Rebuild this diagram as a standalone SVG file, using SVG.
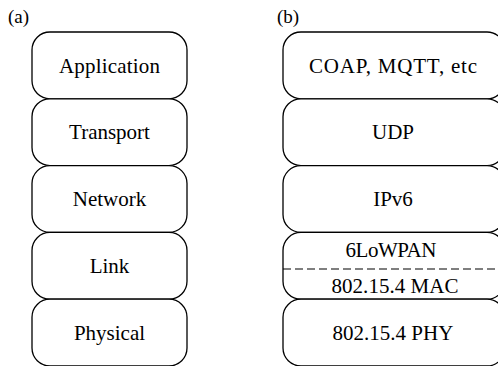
<svg xmlns="http://www.w3.org/2000/svg" width="498" height="366" viewBox="0 0 498 366">
  <style>
    .box { fill: #ffffff; stroke: #000000; stroke-width: 1.3; }
    .lbl { font-family: "Liberation Serif", "Times New Roman", serif; font-size: 21px; fill: #000000; text-anchor: middle; }
    .tag { font-family: "Liberation Serif", "Times New Roman", serif; font-size: 19px; fill: #000000; }
    .split { stroke: #000000; stroke-width: 1.2; stroke-dasharray: 8 4; fill: none; }
  </style>
  <rect width="498" height="366" fill="#ffffff"/>

  <!-- (a) generic stack -->
  <text class="tag" x="8" y="23">(a)</text>
  <g id="a-application">
    <rect class="box" x="32" y="32" width="155" height="66.8" rx="18"/>
    <text class="lbl" x="109.5" y="72.5" textLength="101" lengthAdjust="spacing">Application</text>
  </g>
  <g id="a-transport">
    <rect class="box" x="32" y="98.8" width="155" height="66.8" rx="18"/>
    <text class="lbl" x="109.5" y="139.3">Transport</text>
  </g>
  <g id="a-network">
    <rect class="box" x="32" y="165.6" width="155" height="66.8" rx="18"/>
    <text class="lbl" x="109.5" y="206">Network</text>
  </g>
  <g id="a-link">
    <rect class="box" x="32" y="232.4" width="155" height="66.8" rx="18"/>
    <text class="lbl" x="109.5" y="273">Link</text>
  </g>
  <g id="a-physical">
    <rect class="box" x="32" y="299.2" width="155" height="66.8" rx="18"/>
    <text class="lbl" x="109.5" y="339.6">Physical</text>
  </g>

  <!-- (b) IoT stack -->
  <text class="tag" x="277" y="23">(b)</text>
  <g id="b-app">
    <rect class="box" x="283" y="32" width="222" height="66.8" rx="18"/>
    <text class="lbl" x="393" y="72.5" textLength="168" lengthAdjust="spacing">COAP, MQTT, etc</text>
  </g>
  <g id="b-udp">
    <rect class="box" x="283" y="98.8" width="222" height="66.8" rx="18"/>
    <text class="lbl" x="393" y="139.3">UDP</text>
  </g>
  <g id="b-ipv6">
    <rect class="box" x="283" y="165.6" width="222" height="66.8" rx="18"/>
    <text class="lbl" x="393" y="206">IPv6</text>
  </g>
  <g id="b-link">
    <rect class="box" x="283" y="232.4" width="222" height="66.8" rx="18"/>
    <line class="split" x1="283" y1="269" x2="498" y2="269"/>
    <text class="lbl" x="391" y="257" textLength="91" lengthAdjust="spacing">6LoWPAN</text>
    <text class="lbl" x="395" y="293" textLength="127" lengthAdjust="spacing">802.15.4 MAC</text>
  </g>
  <g id="b-phy">
    <rect class="box" x="283" y="299.2" width="222" height="66.8" rx="18"/>
    <text class="lbl" x="393" y="339.6">802.15.4 PHY</text>
  </g>

  <g id="connectors"></g>
</svg>
